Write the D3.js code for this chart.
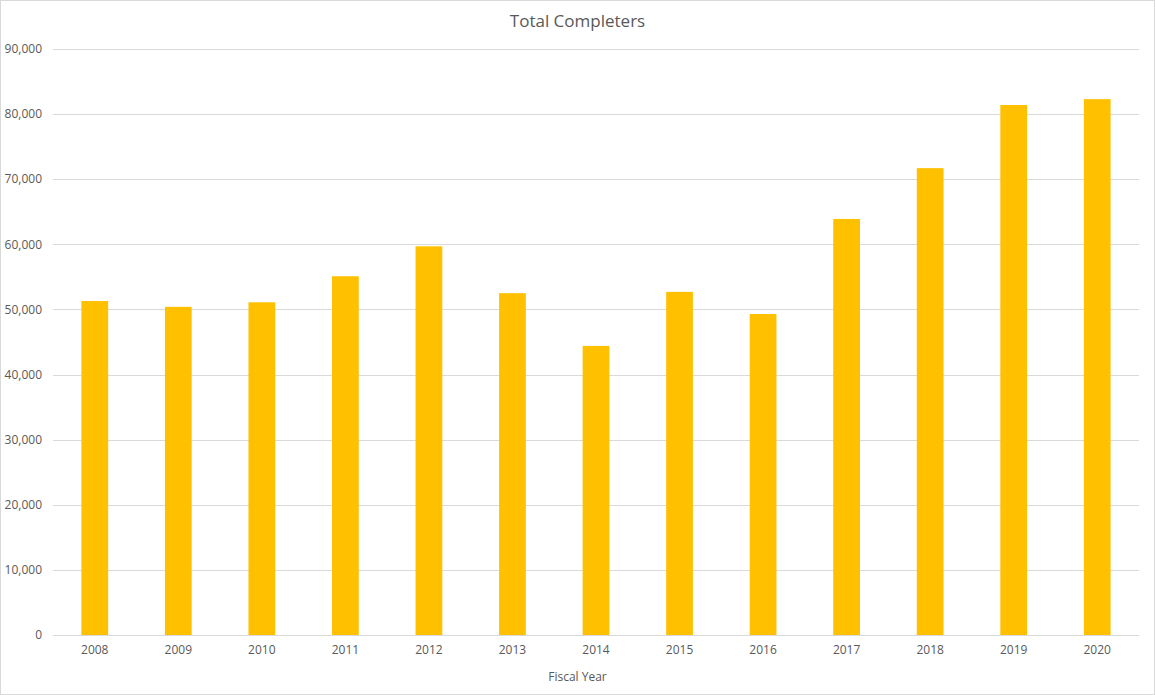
<!DOCTYPE html>
<html>
<head>
<meta charset="utf-8">
<script src="https://cdn.jsdelivr.net/npm/d3@7"></script>
<style>
  body { margin: 0; background: #fff; }
  text { font-family: "Open Sans", "Liberation Sans", sans-serif; fill: #595959; }
</style>
</head>
<body>
<div class="chart-container"></div>
<script>
// Chart data
const years = ['2008', '2009', '2010', '2011', '2012', '2013', '2014', '2015', '2016', '2017', '2018', '2019', '2020'];
const completers = [51300, 50400, 51100, 55100, 59700, 52500, 44400, 52700, 49300, 63900, 71700, 81400, 82300];
const yTicks = [0, 10000, 20000, 30000, 40000, 50000, 60000, 70000, 80000, 90000];

// Chart params
const width = 1155;
const height = 695;
const margin = { top: 49, right: 16, bottom: 60, left: 53 };

function drawChart() {

    var svg = d3.select('.chart-container')
        .append('svg')
        .attr('width', width)
        .attr('height', height);

    // Outer border
    svg.append('rect')
        .attr('x', 0.5).attr('y', 0.5)
        .attr('width', width - 1).attr('height', height - 1)
        .attr('fill', '#fff')
        .attr('stroke', '#d9d9d9');

    let x = d3.scaleBand()
        .domain(years)
        .range([margin.left, width - margin.right])
        .paddingInner(0.68)
        .paddingOuter(0.34);

    let y = d3.scaleLinear()
        .domain([0, 90000])
        .range([height - margin.bottom, margin.top]);

    // Gridlines
    svg.append('g')
        .selectAll('line')
        .data(yTicks)
        .enter()
        .append('line')
        .attr('x1', margin.left)
        .attr('x2', width - margin.right)
        .attr('y1', d => Math.round(y(d)) + 0.5)
        .attr('y2', d => Math.round(y(d)) + 0.5)
        .attr('stroke', '#d9d9d9')
        .attr('stroke-width', 1);

    // Y axis labels
    svg.append('g')
        .selectAll('text')
        .data(yTicks)
        .enter()
        .append('text')
        .attr('x', 42)
        .attr('y', d => y(d))
        .attr('dy', '0.35em')
        .attr('text-anchor', 'end')
        .style('font-size', '12px')
        .text(d => d3.format(',')(d));

    // Bars
    svg.append('g')
        .selectAll('rect')
        .data(completers)
        .enter()
        .append('rect')
        .attr('x', (d, i) => x(years[i]))
        .attr('y', d => y(d))
        .attr('width', x.bandwidth())
        .attr('height', d => y(0) - y(d))
        .attr('fill', '#ffc000');

    // X axis labels
    svg.append('g')
        .selectAll('text')
        .data(years)
        .enter()
        .append('text')
        .attr('x', d => x(d) + x.bandwidth() / 2)
        .attr('y', 650)
        .attr('dy', '0.35em')
        .attr('text-anchor', 'middle')
        .style('font-size', '12px')
        .text(d => d);

    // Axis title
    svg.append('text')
        .attr('x', width / 2)
        .attr('y', 677)
        .attr('dy', '0.35em')
        .attr('text-anchor', 'middle')
        .style('font-size', '12px')
        .text('Fiscal Year');

    // Chart title
    svg.append('text')
        .attr('x', width / 2)
        .attr('y', 21)
        .attr('dy', '0.35em')
        .attr('text-anchor', 'middle')
        .style('font-size', '17px')
        .text('Total Completers');
}

window.onload = function () {
    drawChart();
};
</script>
</body>
</html>
